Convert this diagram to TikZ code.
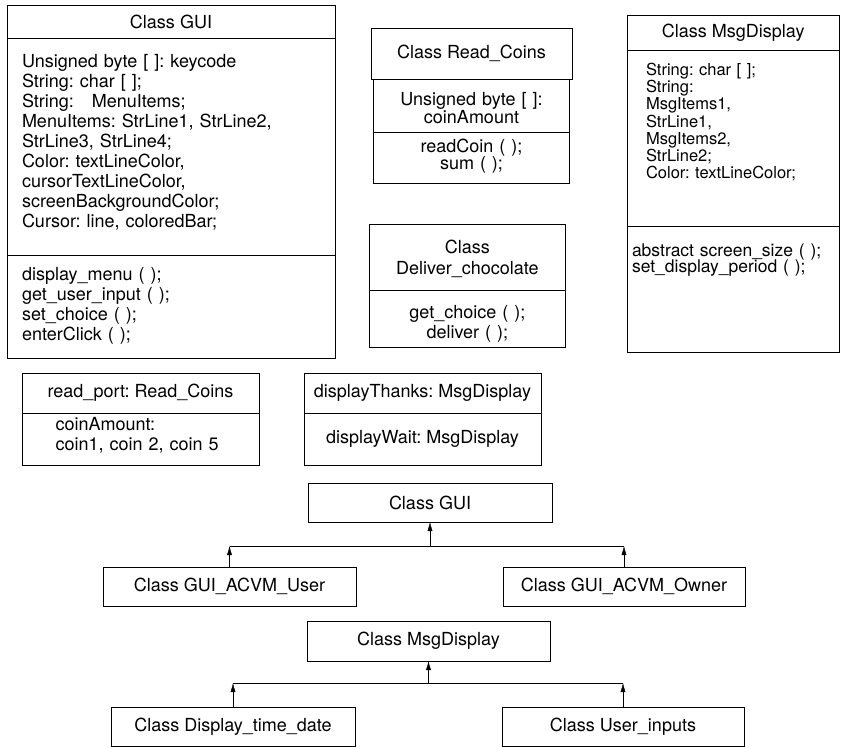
\documentclass[tikz,border=0pt]{standalone}
\usepackage{fontspec}
\setmainfont{TeX Gyre Heros}
\frenchspacing
\usetikzlibrary{arrows.meta,positioning}

\begin{document}
\begin{tikzpicture}[x=1pt, y=-1pt, >={Latex[length=9pt,width=5pt]},
  part/.style={draw, line width=0.8pt, outer sep=0pt, inner ysep=0pt, font=\fontsize{18}{20}\selectfont},
  title/.style={part, align=center, anchor=north west},
  cls/.style={part, minimum height=39pt, align=center}]
  \useasboundingbox (0,0) rectangle (841,747);

  \node[title, minimum width=328pt, minimum height=33pt] (guihead) at (7,5) {Class GUI};
  \node[part, below=0pt of guihead, text width=298pt, inner xsep=15pt, align=left, text height=29pt, text depth=188pt] (guiattr)
    {Unsigned byte [ ]: keycode\\String: char [ ];\\String:\quad MenuItems;\\MenuItems: StrLine1, StrLine2,\\StrLine3, StrLine4;\\Color: textLineColor,\\cursorTextLineColor,\\screenBackgroundColor;\\Cursor: line, coloredBar;};
  \node[part, below=0pt of guiattr, text width=298pt, inner xsep=15pt, align=left, text height=25.5pt, text depth=77.5pt] (guiops)
    {display\_menu ( );\\get\_user\_input ( );\\set\_choice ( );\\enterClick ( );};

  \node[title, minimum width=201pt, minimum height=51pt] (rchead) at (371,28) {Class Read\_Coins};
  \node[part, below=0pt of rchead, text width=189pt, align=center, text height=26.5pt, text depth=26.5pt, font=\fontsize{18}{18}\selectfont] (rcattr)
    {Unsigned byte [ ]:\\coinAmount};
  \node[part, below=0pt of rcattr, text width=189pt, align=center, text height=20pt, text depth=31pt, font=\fontsize{18}{17.5}\selectfont] (rcops)
    {readCoin ( );\\sum ( );};

  \node[title, text width=190pt, text height=29.5pt, text depth=36.5pt, font=\fontsize{18}{21}\selectfont] (dchead) at (369,224) {Class\\Deliver\_chocolate};
  \node[part, below=0pt of dchead, text width=190pt, align=center, text height=28.5pt, text depth=28.5pt] (dcops)
    {get\_choice ( );\\deliver ( );};

  \node[title, minimum width=212.5pt, minimum height=35pt] (mdhead) at (627,15) {Class MsgDisplay};
  \node[part, below=0pt of mdhead, text width=174.5pt, inner xsep=19pt, align=left, text height=25.5pt, text depth=150.5pt, font=\fontsize{16.5}{17.2}\selectfont] (mdattr)
    {String: char [ ];\\String:\\MsgItems1,\\StrLine1,\\MsgItems2,\\StrLine2;\\Color: textLineColor;};
  \node[part, below=0pt of mdattr, text width=202.5pt, inner xsep=5pt, align=left, text height=30pt, text depth=96pt, font=\fontsize{17.5}{16.5}\selectfont] (mdops)
    {abstract screen\_size ( );\\set\_display\_period ( );};

  \node[title, minimum width=237pt, minimum height=40pt] (rphead) at (22,373) {read\_port: Read\_Coins};
  \node[part, below=0pt of rphead, minimum width=237pt, text width=170pt, align=left, text height=17.5pt, text depth=34.5pt] (rpattr)
    {coinAmount:\\coin1, coin 2, coin 5};

  \node[title, minimum width=237pt, minimum height=40pt] (dthead) at (304,373) {displayThanks: MsgDisplay};
  \node[part, below=0pt of dthead, minimum width=237pt, minimum height=52pt] (dtattr) {displayWait: MsgDisplay};

  \node[cls, minimum width=244pt] (gui) at (430,502.5) {Class GUI};
  \node[cls, minimum width=253pt] (user) at (229.5,586.5) {Class GUI\_ACVM\_User};
  \node[cls, minimum width=242pt] (owner) at (624,586.5) {Class GUI\_ACVM\_Owner};
  \coordinate (guibus) at (430,546);
  \draw[->] (user.north) -- (user.north |- guibus);
  \draw[->] (owner.north) -- (owner.north |- guibus);
  \draw (user.north |- guibus) -- (owner.north |- guibus);
  \draw[->] (guibus) -- (gui);

  \node[cls, minimum width=243pt, minimum height=40pt] (msg) at (428.5,641) {Class MsgDisplay};
  \node[cls, minimum width=244pt] (timedate) at (233,726.5) {Class Display\_time\_date};
  \node[cls, minimum width=242pt] (inputs) at (623,726.5) {Class User\_inputs};
  \coordinate (msgbus) at (428.5,683);
  \draw[->] (timedate.north) -- (timedate.north |- msgbus);
  \draw[->] (inputs.north) -- (inputs.north |- msgbus);
  \draw (timedate.north |- msgbus) -- (inputs.north |- msgbus);
  \draw[->] (msgbus) -- (msg);
\end{tikzpicture}
\end{document}
